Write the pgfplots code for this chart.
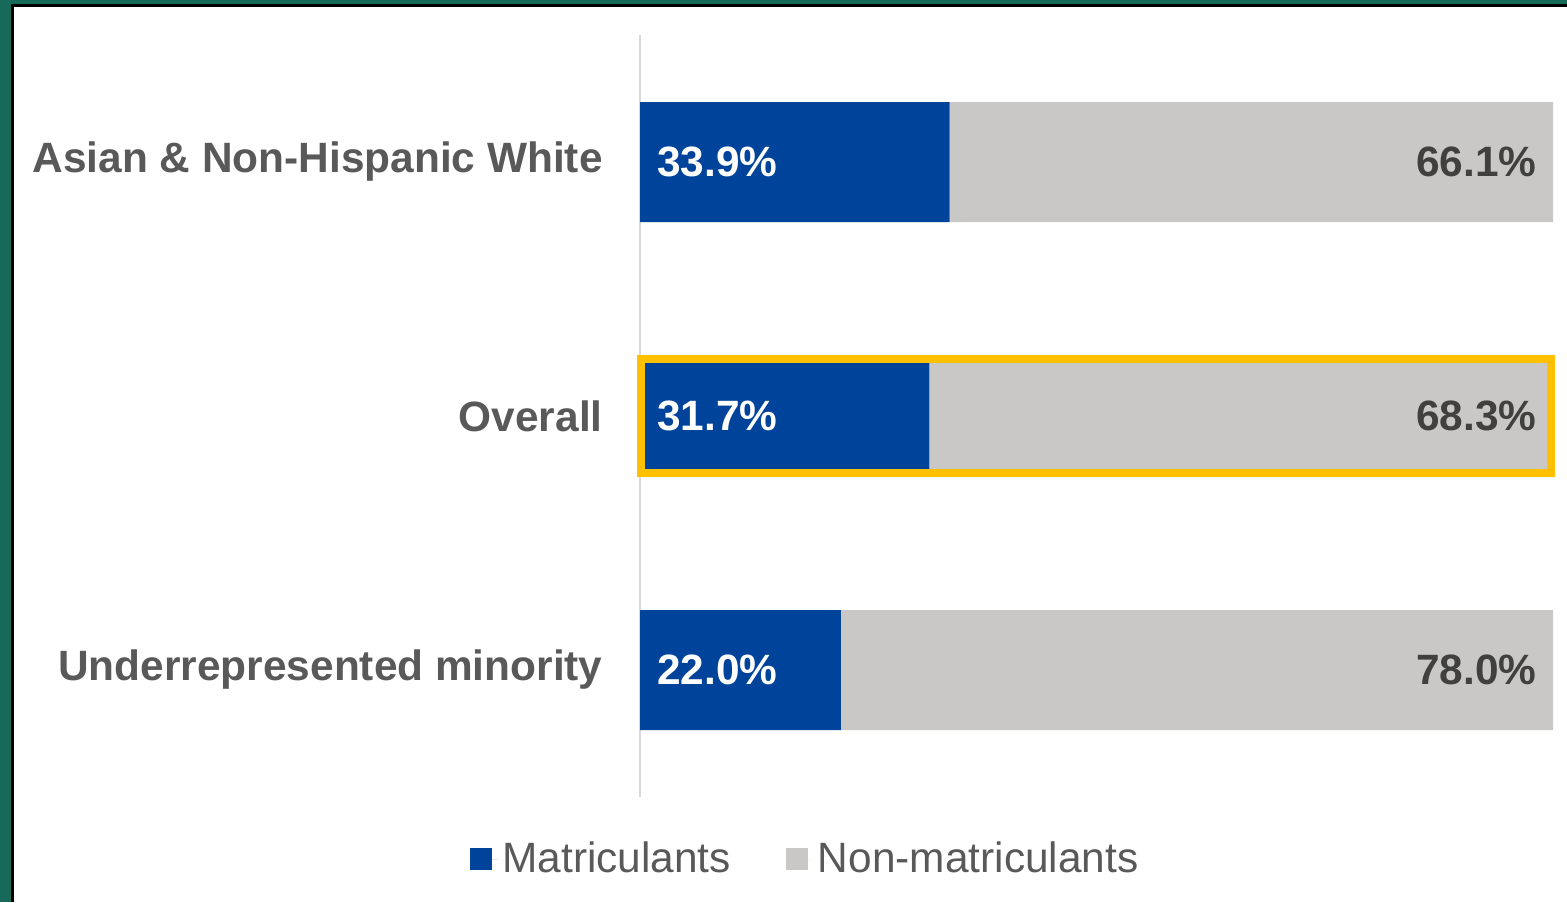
\documentclass[border=0pt]{standalone}
\usepackage{pgfplots}
\pgfplotsset{compat=1.18}
\usepackage{fontspec}
\setmainfont{Liberation Sans}
\definecolor{matblue}{HTML}{00439A}
\definecolor{nongray}{HTML}{C9C8C6}
\definecolor{hilite}{HTML}{FFC000}
\definecolor{labgray}{HTML}{595959}
\definecolor{valgray}{HTML}{404040}
\definecolor{slide}{HTML}{17695A}
\definecolor{axline}{HTML}{D9D9D9}
\tikzset{
    inval/.style={anchor=west, inner sep=0pt, text=white, font=\bfseries\fontsize{21.2}{24}\selectfont, xshift=8.5pt},
    outval/.style={anchor=east, inner sep=0pt, text=valgray, font=\bfseries\fontsize{21.2}{24}\selectfont, xshift=-8pt},
}
\begin{document}
\begin{tikzpicture}
% slide background and white panel (1px = 0.5pt)
\fill[slide] (0pt,0pt) rectangle (783.5pt,451pt);
\fill[black] (5.5pt,0pt) rectangle (783.5pt,449pt);
\fill[white] (7pt,0pt) rectangle (783.5pt,447.5pt);
\begin{axis}[
    at={(320pt,52.5pt)}, anchor=south west,
    scale only axis,
    width=456.5pt, height=381pt,
    xbar stacked,
    bar width=60pt,
    xmin=0, xmax=100,
    ymin=-0.5, ymax=2.5,
    ytick={0,1,2},
    yticklabels={Underrepresented minority,Overall,Asian \& Non-Hispanic White},
    y tick label style={font=\bfseries\fontsize{21.2}{24}\selectfont, text=labgray, inner sep=0pt, xshift=-18.5pt},
    major tick length=0pt,
    axis x line=none,
    axis y line*=left,
    y axis line style={draw=axline, line width=0.6pt, -},
    legend style={at={(0.1823,0)}, anchor=center, yshift=-31pt, draw=none, fill=none,
        legend columns=2, font=\fontsize{21.2}{24}\selectfont, text=labgray,
        /tikz/every even column/.append style={column sep=25.5pt}},
    legend cell align=left,
    legend image code/.code={\fill[#1] (0pt,-5.5pt) rectangle (11pt,5.5pt); \path (0pt,0pt) -- (14pt,0pt);},
    clip=false,
]
\addplot[fill=matblue, draw=none] coordinates {(22.0,0) (31.7,1) (33.9,2)};
\addlegendentry{Matriculants}
\addplot[fill=nongray, draw=none] coordinates {(78.0,0) (68.3,1) (66.1,2)};
\addlegendentry{Non-matriculants}
% anchor points for the frame and labels, drawn after the axis
\coordinate (fa) at (axis cs:0.1,0.774);
\coordinate (fb) at (axis cs:99.8,1.226);
\coordinate (l0) at (axis cs:0,0);
\coordinate (l1) at (axis cs:0,1);
\coordinate (l2) at (axis cs:0,2);
\coordinate (r0) at (axis cs:100,0);
\coordinate (r1) at (axis cs:100,1);
\coordinate (r2) at (axis cs:100,2);
\end{axis}
% highlight frame around the overall bar
\draw[hilite, line width=4pt] (fa) rectangle (fb);
% value labels
\node[inval] at (l0) {22.0\%};
\node[inval] at (l1) {31.7\%};
\node[inval] at (l2) {33.9\%};
\node[outval] at (r0) {78.0\%};
\node[outval] at (r1) {68.3\%};
\node[outval] at (r2) {66.1\%};
\end{tikzpicture}
\end{document}
